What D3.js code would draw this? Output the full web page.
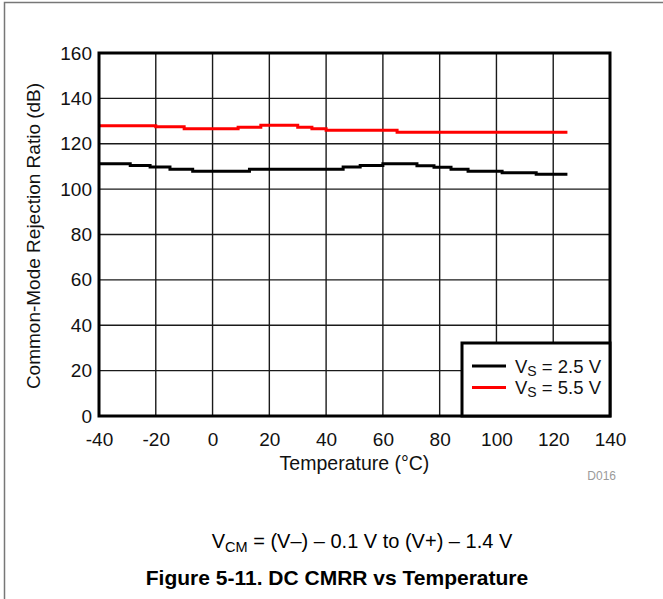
<!DOCTYPE html>
<html>
<head>
<meta charset="utf-8">
<script src="https://cdn.jsdelivr.net/npm/d3@7"></script>
<style>
  body { margin: 0; background: #fff; }
  text { font-family: "Liberation Sans", Arial, sans-serif; }
</style>
</head>
<body>
<div id="container"></div>
<script>
/* DATA */
const xTicks = [-40, -20, 0, 20, 40, 60, 80, 100, 120, 140];
const yTicks = [0, 20, 40, 60, 80, 100, 120, 140, 160];

// Vs = 2.5 V (black)
const temp25 = [-40, -29, -22, -15, -7, 13, 46, 52, 60, 72, 78, 84, 90, 102, 114, 125];
const cmrr25 = [111.2, 110.4, 109.7, 108.8, 107.9, 108.8, 109.7, 110.4, 111.2, 110.3, 109.6, 108.8, 107.9, 107.2, 106.6, 106.6];

// Vs = 5.5 V (red)
const temp55 = [-40, -20, -10, 9, 17, 30, 35, 40, 65, 125];
const cmrr55 = [127.9, 127.5, 126.6, 127.3, 128.2, 127.3, 126.6, 126.0, 125.1, 125.1];

const seriesNames = ["V|S| = 2.5 V", "V|S| = 5.5 V"];
const seriesColors = ["#000000", "#ff0000"];

/* CONSTANTS */
const width = 663, height = 599;
const plot = { left: 99, right: 610, top: 53, bottom: 416 };
const fs = 19;

const svg = d3.select("#container").append("svg")
  .attr("width", width)
  .attr("height", height);

// outer frame (left and top only visible)
svg.append("path")
  .attr("d", `M4.5,${height} L4.5,2.5 L${width},2.5`)
  .attr("fill", "none")
  .attr("stroke", "#777")
  .attr("stroke-width", 1.5);

/* SCALES */
const xScale = d3.scaleLinear().domain([-40, 140]).range([plot.left, plot.right]);
const yScale = d3.scaleLinear().domain([0, 160]).range([plot.bottom, plot.top]);

/* GRID */
svg.append("g")
  .selectAll("line")
  .data(xTicks)
  .join("line")
    .attr("x1", d => xScale(d)).attr("x2", d => xScale(d))
    .attr("y1", plot.top).attr("y2", plot.bottom)
    .attr("stroke", "#1a1a1a")
    .attr("stroke-width", 1.4);

svg.append("g")
  .selectAll("line")
  .data(yTicks)
  .join("line")
    .attr("x1", plot.left).attr("x2", plot.right)
    .attr("y1", d => yScale(d)).attr("y2", d => yScale(d))
    .attr("stroke", "#1a1a1a")
    .attr("stroke-width", 1.4);

/* AXES */
const xAxis = d3.axisBottom(xScale).tickValues(xTicks).tickFormat(d => String(d)).tickSize(0).tickPadding(16.5);
svg.append("g")
  .attr("transform", `translate(0,${plot.bottom})`)
  .call(xAxis)
  .call(g => g.select(".domain").remove())
  .selectAll("text")
    .attr("font-size", fs)
    .attr("fill", "#111");

const yAxis = d3.axisLeft(yScale).tickValues(yTicks).tickFormat(d => String(d)).tickSize(0).tickPadding(7);
svg.append("g")
  .attr("transform", `translate(${plot.left},0)`)
  .call(yAxis)
  .call(g => g.select(".domain").remove())
  .selectAll("text")
    .attr("font-size", fs)
    .attr("fill", "#111");

/* LINES */
const line = d3.line()
  .x(d => xScale(d[0]))
  .y(d => yScale(d[1]))
  .curve(d3.curveStepAfter);

const series = [
  d3.zip(temp25, cmrr25),
  d3.zip(temp55, cmrr55)
];

svg.append("g")
  .selectAll("path")
  .data(series)
  .join("path")
    .attr("d", line)
    .attr("fill", "none")
    .attr("stroke", (d, i) => seriesColors[i])
    .attr("stroke-width", 3);

// plot frame
svg.append("rect")
  .attr("x", plot.left).attr("y", plot.top)
  .attr("width", plot.right - plot.left)
  .attr("height", plot.bottom - plot.top)
  .attr("fill", "none")
  .attr("stroke", "#000")
  .attr("stroke-width", 3);

/* LEGEND */
const legend = svg.append("g");
legend.append("rect")
  .attr("x", 462).attr("y", 343)
  .attr("width", plot.right - 462)
  .attr("height", plot.bottom - 343)
  .attr("fill", "#fff")
  .attr("stroke", "#000")
  .attr("stroke-width", 3);

seriesNames.forEach((name, i) => {
  const y = 366 + i * 21.5;
  legend.append("line")
    .attr("x1", 472).attr("x2", 506)
    .attr("y1", y).attr("y2", y)
    .attr("stroke", seriesColors[i])
    .attr("stroke-width", 3);
  const parts = name.split("|");
  const t = legend.append("text")
    .attr("x", 515).attr("y", y + 6.5)
    .attr("font-size", 18.5)
    .attr("fill", "#111");
  t.append("tspan").text(parts[0]);
  t.append("tspan").attr("font-size", 14).attr("dy", 3).text(parts[1]);
  t.append("tspan").attr("dy", -3).text(parts[2]);
});

/* LABELS */
svg.append("text")
  .attr("transform", `translate(39.5,236) rotate(-90)`)
  .attr("text-anchor", "middle")
  .attr("font-size", fs)
  .attr("fill", "#111")
  .text("Common-Mode Rejection Ratio (dB)");

svg.append("text")
  .attr("x", (plot.left + plot.right) / 2)
  .attr("y", 470)
  .attr("text-anchor", "middle")
  .attr("font-size", 19.5)
  .attr("fill", "#111")
  .text("Temperature (\u00B0C)");

svg.append("text")
  .attr("x", 616)
  .attr("y", 480)
  .attr("text-anchor", "end")
  .attr("font-size", 12)
  .attr("fill", "#9a9a9a")
  .text("D016");

const cap = svg.append("text")
  .attr("x", 362)
  .attr("y", 548)
  .attr("text-anchor", "middle")
  .attr("font-size", 20)
  .attr("fill", "#000");
cap.append("tspan").text("V");
cap.append("tspan").attr("font-size", 14.5).attr("dy", 4).text("CM");
cap.append("tspan").attr("dy", -4).text(" = (V\u2013) \u2013 0.1 V to (V+) \u2013 1.4 V");

svg.append("text")
  .attr("x", 337)
  .attr("y", 585)
  .attr("text-anchor", "middle")
  .attr("font-size", 21)
  .attr("font-weight", "bold")
  .attr("fill", "#000")
  .text("Figure 5-11. DC CMRR vs Temperature");
</script>
</body>
</html>
